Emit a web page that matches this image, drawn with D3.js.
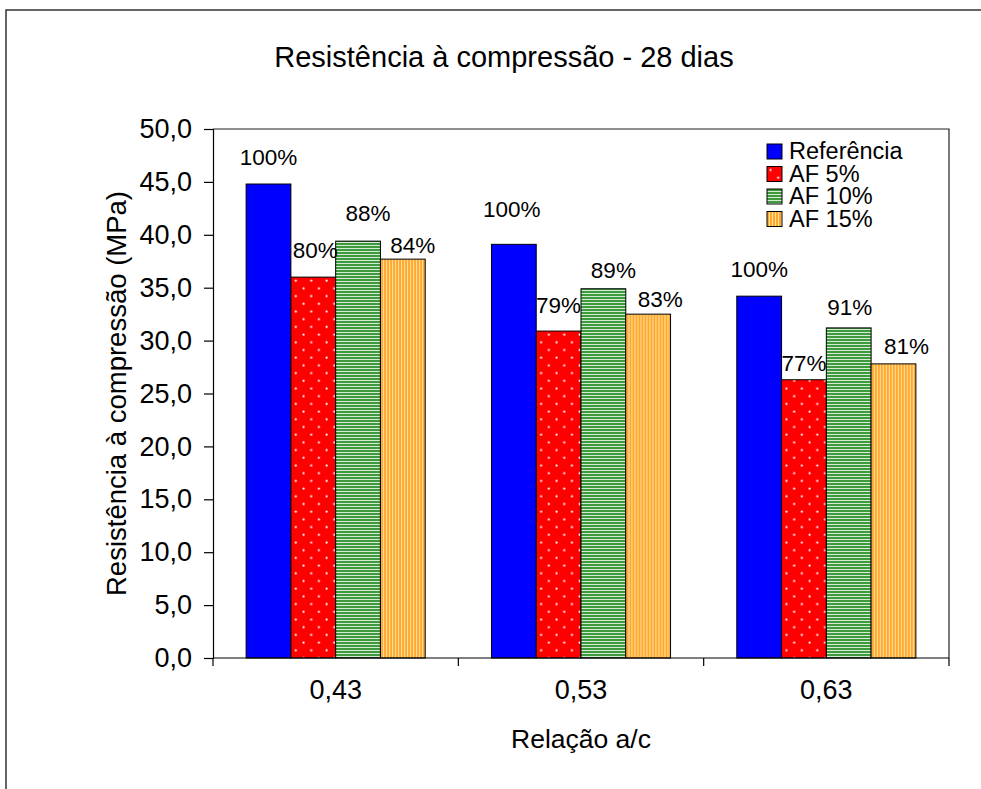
<!DOCTYPE html>
<html>
<head>
<meta charset="utf-8">
<script src="https://cdn.jsdelivr.net/npm/d3@7"></script>
<style>
  html, body { margin: 0; background: #fff; overflow: hidden; }
  svg { display: block; }
  text { font-family: "Liberation Sans", Arial, sans-serif; fill: #000; }
</style>
</head>
<body>
<svg id="chart" width="981" height="789"></svg>
<script>
// Compressive strength at 28 days, by water/cement ratio
const categories = ["0,43", "0,53", "0,63"];
const seriesNames = ["Referência", "AF 5%", "AF 10%", "AF 15%"];
const referencia = [44.8, 39.1, 34.2];
const af5 = [36.0, 30.9, 26.3];
const af10 = [39.4, 34.9, 31.2];
const af15 = [37.7, 32.5, 27.8];
const pctReferencia = ["100%", "100%", "100%"];
const pctAf5 = ["80%", "79%", "77%"];
const pctAf10 = ["88%", "89%", "91%"];
const pctAf15 = ["84%", "83%", "81%"];
const yTicks = [0, 5, 10, 15, 20, 25, 30, 35, 40, 45, 50];

const seriesValues = [referencia, af5, af10, af15];
const seriesPcts = [pctReferencia, pctAf5, pctAf10, pctAf15];

// label nudges [dx, gap above bar top], per series and category
const labelNudge = [
  [[0, 19], [-2, 27], [0, 19]],
  [[2, 19], [0, 18], [0, 9]],
  [[10, 20], [10, 11], [1, 13]],
  [[10, 6], [12, 7], [13, 10]]
];

const svg = d3.select("#chart");
const plot = { left: 213, right: 949, top: 129, bottom: 658 };

// fill patterns
const defs = svg.append("defs");
const pDots = defs.append("pattern").attr("id", "pDots")
  .attr("patternUnits", "userSpaceOnUse").attr("width", 15.4).attr("height", 15.4);
pDots.append("rect").attr("width", 15.4).attr("height", 15.4).attr("fill", "#ff0000");
pDots.append("circle").attr("cx", 3.5).attr("cy", 3.5).attr("r", 1.1).attr("fill", "#fff");
pDots.append("circle").attr("cx", 11.2).attr("cy", 11.2).attr("r", 1.1).attr("fill", "#fff");

const pH = defs.append("pattern").attr("id", "pHoriz")
  .attr("patternUnits", "userSpaceOnUse").attr("width", 4).attr("height", 3);
pH.append("rect").attr("width", 4).attr("height", 3).attr("fill", "#3d9b3d");
pH.append("rect").attr("y", 2).attr("width", 4).attr("height", 1).attr("fill", "#d6ebd6");

const pV = defs.append("pattern").attr("id", "pVert")
  .attr("patternUnits", "userSpaceOnUse").attr("width", 3).attr("height", 4);
pV.append("rect").attr("width", 3).attr("height", 4).attr("fill", "#ffa82a");
pV.append("rect").attr("x", 2).attr("width", 1).attr("height", 4).attr("fill", "#ffe3a8");

const fills = ["#0000ff", "url(#pDots)", "url(#pHoriz)", "url(#pVert)"];

// outer chart border: only its left and top edges fall inside the view
svg.append("path").attr("d", "M6,789V10H981")
  .attr("fill", "none").attr("stroke", "#333").attr("stroke-width", 1.5);

// scales
const x0 = d3.scaleBand().domain(categories).range([plot.left, plot.right])
  .paddingInner(0.27).paddingOuter(0.135);
const x1 = d3.scaleBand().domain(seriesNames).range([0, x0.bandwidth()]).padding(0);
const y = d3.scaleLinear().domain([0, 50]).range([plot.bottom, plot.top]);

// plot frame (top and right)
svg.append("path")
  .attr("d", `M${plot.left},${plot.top}H${plot.right}V${plot.bottom}`)
  .attr("fill", "none").attr("stroke", "#222").attr("stroke-width", 1.2);

// bars
const groups = svg.append("g").selectAll("g").data(categories).join("g")
  .attr("transform", d => `translate(${x0(d)},0)`);

groups.each(function (cat, ci) {
  const g = d3.select(this);
  seriesNames.forEach((s, si) => {
    const v = seriesValues[si][ci];
    g.append("rect")
      .attr("x", x1(s)).attr("y", y(v))
      .attr("width", x1.bandwidth()).attr("height", y(0) - y(v))
      .attr("fill", fills[si]).attr("stroke", "#000").attr("stroke-width", 1);
  });
});

// data labels
groups.each(function (cat, ci) {
  const g = d3.select(this);
  seriesNames.forEach((s, si) => {
    const v = seriesValues[si][ci];
    const [dx, gap] = labelNudge[si][ci];
    g.append("text")
      .attr("x", x1(s) + x1.bandwidth() / 2 + dx)
      .attr("y", y(v) - gap)
      .attr("text-anchor", "middle")
      .attr("font-size", 22.5)
      .text(seriesPcts[si][ci]);
  });
});

// y axis
const yAxis = d3.axisLeft(y).tickValues(yTicks).tickSize(9).tickPadding(12)
  .tickFormat(d => d3.format(".1f")(d).replace(".", ","));
const gy = svg.append("g").attr("transform", `translate(${plot.left},0)`).call(yAxis);
gy.selectAll("text").attr("font-size", 27).attr("font-family", "Liberation Sans, Arial, sans-serif");
gy.selectAll("line,path").attr("stroke", "#000").attr("stroke-width", 1.2);

// x axis
const xAxis = d3.axisBottom(x0).tickSize(0).tickPadding(22);
const gx = svg.append("g").attr("transform", `translate(0,${plot.bottom})`).call(xAxis);
gx.select(".domain").attr("d", `M${plot.left},0H${plot.right}`).attr("stroke", "#000").attr("stroke-width", 1.2);
gx.selectAll("text").attr("font-size", 27).attr("font-family", "Liberation Sans, Arial, sans-serif");
// category separators on the x axis
const sepX = [plot.left, ...categories.map(c => x0(c) + x0.bandwidth() + x0.step() * x0.paddingInner() / 2)];
gx.selectAll("line.sep").data(sepX).join("line").attr("class", "sep")
  .attr("x1", d => d).attr("x2", d => d).attr("y1", 0).attr("y2", 8)
  .attr("stroke", "#000").attr("stroke-width", 1.2);

// titles
svg.append("text").attr("x", 504).attr("y", 67).attr("text-anchor", "middle")
  .attr("font-size", 29).text("Resistência à compressão - 28 dias");
svg.append("text").attr("x", (plot.left + plot.right) / 2).attr("y", 748)
  .attr("text-anchor", "middle").attr("font-size", 26.5).text("Relação a/c");
svg.append("text")
  .attr("transform", `translate(126,${(plot.top + plot.bottom) / 2}) rotate(-90)`)
  .attr("text-anchor", "middle").attr("font-size", 27.5)
  .text("Resistência à compressão (MPa)");

// legend
const legend = svg.append("g").attr("transform", "translate(767,144)");
seriesNames.forEach((s, i) => {
  const row = legend.append("g").attr("transform", `translate(0,${i * 22.5})`);
  row.append("rect").attr("width", 15).attr("height", 15)
    .attr("fill", fills[i]).attr("stroke", "#000").attr("stroke-width", 1);
  row.append("text").attr("x", 22).attr("y", 15).attr("font-size", 23.5).text(s);
});
</script>
</body>
</html>
